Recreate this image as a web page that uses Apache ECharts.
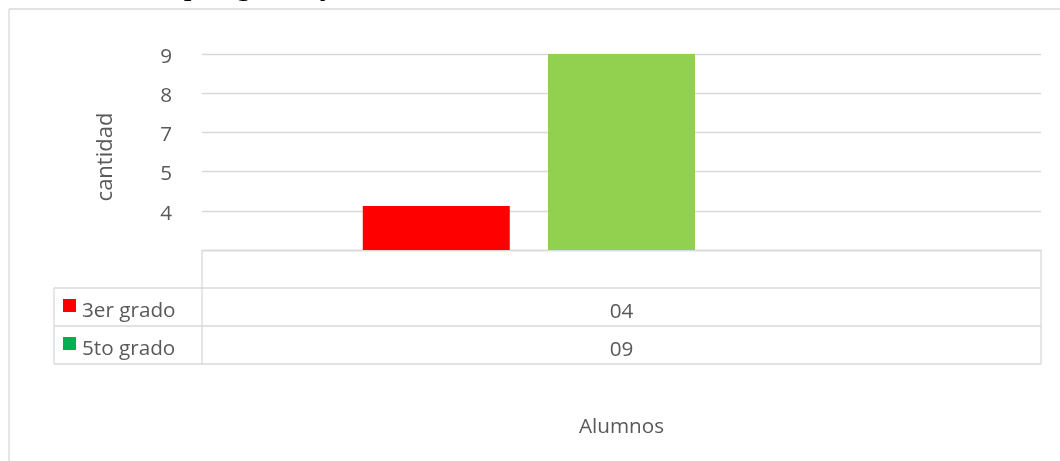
<!DOCTYPE html>
<html>
<head>
<meta charset="utf-8">
<script src="https://cdn.jsdelivr.net/npm/echarts@6/dist/echarts.min.js"></script>
<style>
  html, body { margin: 0; padding: 0; background: #ffffff; }
  #chart { width: 1060px; height: 461px; }
</style>
</head>
<body>
<div id="chart"></div>
<script>
// ---- data ----
const categories = [''];                       // single (blank) category
const seriesNames = ['3er grado', '5to grado'];
const barValues = [1.12, 5];                   // bar heights in axis units
const tableValues = ['04', '09'];              // values shown in the data table
const yTickLabels = ['', '4', '5', '7', '8', '9'];
const barColors = ['#FF0000', '#92D050'];
const legendColors = ['#FF0000', '#00B050'];
const yAxisTitle = 'cantidad';
const xAxisTitle = 'Alumnos';
const captionText = 'por grado y';

// ---- layout ----
const W = 1060, H = 461;
const gridLeft = 202, gridRight = 1041, gridTop = 54, gridBottom = 250;
const rowH = 38;
const tableLeft = 54;
const lineColor = '#d9d9d9';
const textColor = '#595959';
const font = '"Open Sans", sans-serif';
const fs = 20.7;

const chart = echarts.init(document.getElementById('chart'), null, { renderer: 'canvas' });

const graphic = [];
function hline(x1, x2, y) {
  graphic.push({ type: 'line', shape: { x1: x1, y1: y, x2: x2, y2: y }, style: { stroke: lineColor, lineWidth: 1.3 }, silent: true });
}
function vline(x, y1, y2) {
  graphic.push({ type: 'line', shape: { x1: x, y1: y1, x2: x, y2: y2 }, style: { stroke: lineColor, lineWidth: 1.3 }, silent: true });
}
// outer chart border (top & left visible)
hline(9, W, 9);
vline(9, 9, H);
// caption partially cut at top
graphic.push({ type: 'text', left: 186, top: -30, style: { text: captionText, font: 'italic 32px "Liberation Serif", serif', fill: '#000' }, silent: true });

// data table
const nRows = seriesNames.length;
const tableTop = gridBottom;
const tableBottom = gridBottom + rowH * (nRows + 1);
for (let i = 1; i <= nRows + 1; i++) hline(tableLeft, gridRight, gridBottom + rowH * i);
vline(gridLeft, tableTop, tableBottom);
vline(gridRight, tableTop, tableBottom);
vline(tableLeft, gridBottom + rowH, tableBottom);
const catCenter = (gridLeft + gridRight) / 2;
seriesNames.forEach(function (name, i) {
  const cy = gridBottom + rowH * (i + 1) + rowH / 2;
  graphic.push({ type: 'rect', shape: { x: 63, y: cy - 8, width: 13, height: 13 }, style: { fill: legendColors[i] }, silent: true });
  graphic.push({ type: 'text', x: 82, y: cy + 4, style: { text: name, font: fs + 'px ' + font, fill: textColor, verticalAlign: 'middle', align: 'left' }, silent: true });
  graphic.push({ type: 'text', x: catCenter, y: cy + 5, style: { text: tableValues[i], font: fs + 'px ' + font, fill: textColor, verticalAlign: 'middle', align: 'center' }, silent: true });
});

const series = seriesNames.map(function (name, i) {
  return {
    name: name,
    type: 'bar',
    data: [barValues[i]],
    barWidth: 147,
    barGap: '26%',
    itemStyle: { color: barColors[i] },
    silent: true
  };
});
// third (empty) series slot, as in the original clustered layout
series.push({ name: '', type: 'bar', data: [null], barWidth: 147, barGap: '26%', silent: true });

chart.setOption({
  backgroundColor: '#ffffff',
  animation: false,
  grid: { left: gridLeft, right: W - gridRight, top: gridTop, bottom: H - gridBottom, containLabel: false },
  xAxis: {
    type: 'category',
    data: categories,
    axisLine: { show: true, lineStyle: { color: lineColor, width: 1.3 } },
    axisTick: { show: false },
    axisLabel: { show: false },
    name: xAxisTitle,
    nameLocation: 'middle',
    nameGap: 167,
    nameTextStyle: { fontSize: fs, color: textColor, fontFamily: font }
  },
  yAxis: {
    type: 'value',
    min: 0,
    max: 5,
    interval: 1,
    axisLine: { show: false },
    axisTick: { show: false },
    splitLine: { show: true, lineStyle: { color: lineColor, width: 1.3 } },
    axisLabel: {
      margin: 30,
      fontSize: fs,
      color: textColor,
      fontFamily: font,
      verticalAlign: 'top',
      lineHeight: 22,
      padding: [-8, 0, 0, 0],
      formatter: function (v) { return yTickLabels[Math.round(v)]; }
    },
    name: yAxisTitle,
    nameLocation: 'middle',
    nameGap: 85,
    nameTextStyle: { fontSize: 22, color: textColor, fontFamily: font, padding: [0, 10, 0, 0] }
  },
  graphic: graphic,
  series: series
});
</script>
</body>
</html>
